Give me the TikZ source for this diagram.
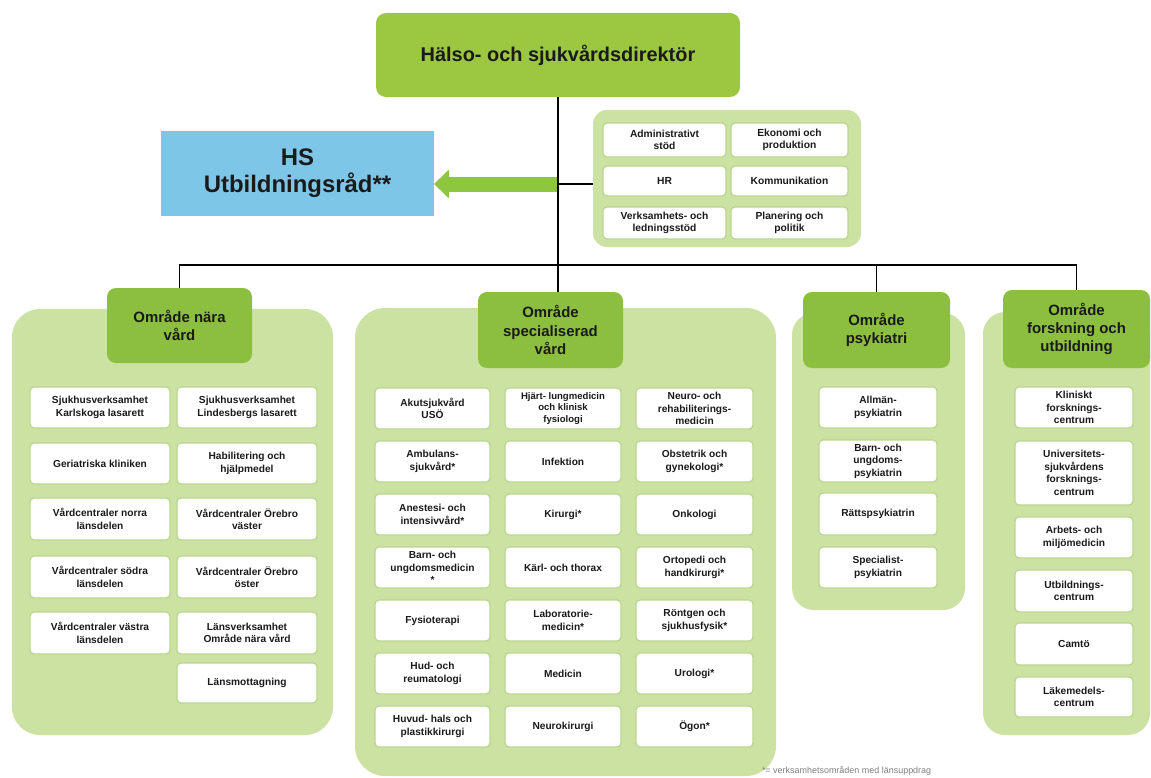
\documentclass[tikz,border=0pt]{standalone}
\usepackage{fontspec}
\setmainfont{Liberation Sans}
\usetikzlibrary{arrows.meta}
\definecolor{dirgreen}{HTML}{9CC741}
\definecolor{hdrgreen}{HTML}{8CBF3F}
\definecolor{panelgreen}{HTML}{CBE2A3}
\definecolor{boxborder}{HTML}{B9D68E}
\definecolor{hsblue}{HTML}{7EC6E8}
\definecolor{arrowgreen}{HTML}{8DC63F}
\definecolor{txt}{HTML}{1A1A1A}
\newcommand\bx[7]{\node[#1, minimum width={#5bp-#3bp}, minimum height={#6bp-#4bp}] (#2) at ({(#3+#5)/2},{(#4+#6)/2}) {#7};}
\tikzset{
  base/.style={inner sep=0pt, outer sep=0pt, align=center, text=txt},
  dirbox/.style={base, fill=dirgreen, rounded corners=10bp, font=\fontsize{20}{24}\selectfont\bfseries},
  hsbox/.style={base, fill=hsblue, font=\fontsize{24}{27}\selectfont\bfseries},
  panel/.style={base, fill=panelgreen},
  hdrbox/.style={base, fill=hdrgreen, rounded corners=9bp, font=\fontsize{15}{18.5}\selectfont\bfseries},
  ibox/.style={base, fill=white, draw=boxborder, line width=1.3bp, rounded corners=4bp, font=\fontsize{10.2}{12.6}\selectfont\bfseries},
  sbox/.style={ibox, font=\fontsize{10.3}{12.4}\selectfont\bfseries},
  conn/.style={draw=black, line width=1.1bp},
  bigarrow/.style={draw=arrowgreen, line width=15bp, -{Triangle[width=28bp,length=15bp]}},
  note/.style={base, text=gray, font=\fontsize{9}{11}\selectfont}
}
\begin{document}
\begin{tikzpicture}[x=1bp,y=-1bp]
\useasboundingbox (0,0) rectangle (1151,778);
% director and HS council
\bx{dirbox}{dir}{376}{13}{740}{97}{Hälso- och sjukvårdsdirektör}
\bx{hsbox}{hs}{161}{131}{434}{216}{HS\\Utbildningsråd**}
% staff functions
\bx{panel, rounded corners=14bp}{staff}{593}{110}{861}{247}{}
\bx{sbox}{s1}{603}{123}{726}{157}{Administrativt\\stöd}
\bx{sbox}{s2}{731}{123}{848}{157}{Ekonomi och\\produktion}
\bx{sbox}{s3}{603}{166}{726}{196}{HR}
\bx{sbox}{s4}{731}{166}{848}{196}{Kommunikation}
\bx{sbox}{s5}{603}{207}{726}{239}{Verksamhets- och\\ledningsstöd}
\bx{sbox}{s6}{731}{207}{848}{239}{Planering och\\politik}
% panels
\bx{panel, rounded corners=28bp}{p1}{12}{309}{333}{735}{}
\bx{panel, rounded corners=30bp}{p2}{355}{308}{776}{776}{}
\bx{panel, rounded corners=22bp}{p3}{792}{313}{965}{610}{}
\bx{panel, rounded corners=22bp}{p4}{983}{312}{1150}{735}{}
% headers
\bx{hdrbox}{h1}{107}{288}{252}{363}{Område nära\\vård}
\bx{hdrbox}{h2}{478}{292}{623}{368}{Område\\specialiserad\\vård}
\bx{hdrbox}{h3}{803}{292}{950}{368}{Område\\psykiatri}
\bx{hdrbox}{h4}{1003}{290}{1150}{368}{Område\\forskning och\\utbildning}
% Område nära vård
\bx{ibox}{a1}{30}{387}{170}{428}{Sjukhusverksamhet\\Karlskoga lasarett}
\bx{ibox}{a2}{30}{443}{170}{484}{Geriatriska kliniken}
\bx{ibox}{a3}{30}{498}{170}{540}{Vårdcentraler norra\\länsdelen}
\bx{ibox}{a4}{30}{556}{170}{598}{Vårdcentraler södra\\länsdelen}
\bx{ibox}{a5}{30}{612}{170}{654}{Vårdcentraler västra\\länsdelen}
\bx{ibox}{b1}{177}{387}{317}{428}{Sjukhusverksamhet\\Lindesbergs lasarett}
\bx{ibox}{b2}{177}{443}{317}{484}{Habilitering och\\hjälpmedel}
\bx{ibox}{b3}{177}{498}{317}{540}{Vårdcentraler Örebro\\väster}
\bx{ibox}{b4}{177}{556}{317}{598}{Vårdcentraler Örebro\\öster}
\bx{ibox}{b5}{177}{612}{317}{654}{Länsverksamhet\\Område nära vård}
\bx{ibox}{b6}{177}{663}{317}{703}{Länsmottagning}
% Område specialiserad vård
\bx{ibox}{c1}{375}{388}{490}{429}{Akutsjukvård\\USÖ}
\bx{ibox}{c2}{375}{441}{490}{482}{Ambulans-\\sjukvård*}
\bx{ibox}{c3}{375}{494}{490}{535}{Anestesi- och\\intensivvård*}
\bx{ibox}{c4}{375}{547}{490}{588}{Barn- och\\ungdomsmedicin\\*}
\bx{ibox}{c5}{375}{600}{490}{641}{Fysioterapi}
\bx{ibox}{c6}{375}{653}{490}{694}{Hud- och\\reumatologi}
\bx{ibox}{c7}{375}{706}{490}{747}{Huvud- hals och\\plastikkirurgi}
\bx{ibox, font=\fontsize{9.6}{12}\selectfont\bfseries}{d1}{505}{388}{621}{429}{Hjärt- lungmedicin\\och klinisk\\fysiologi}
\bx{ibox}{d2}{505}{441}{621}{482}{Infektion}
\bx{ibox}{d3}{505}{494}{621}{535}{Kirurgi*}
\bx{ibox}{d4}{505}{547}{621}{588}{Kärl- och thorax}
\bx{ibox}{d5}{505}{600}{621}{641}{Laboratorie-\\medicin*}
\bx{ibox}{d6}{505}{653}{621}{694}{Medicin}
\bx{ibox}{d7}{505}{706}{621}{747}{Neurokirurgi}
\bx{ibox}{e1}{636}{388}{753}{429}{Neuro- och\\rehabiliterings-\\medicin}
\bx{ibox}{e2}{636}{441}{753}{482}{Obstetrik och\\gynekologi*}
\bx{ibox}{e3}{636}{494}{753}{535}{Onkologi}
\bx{ibox}{e4}{636}{547}{753}{588}{Ortopedi och\\handkirurgi*}
\bx{ibox}{e5}{636}{600}{753}{641}{Röntgen och\\sjukhusfysik*}
\bx{ibox}{e6}{636}{653}{753}{694}{Urologi*}
\bx{ibox}{e7}{636}{706}{753}{747}{Ögon*}
% Område psykiatri
\bx{ibox}{f1}{819}{387}{937}{428}{Allmän-\\psykiatrin}
\bx{ibox}{f2}{819}{440}{937}{482}{Barn- och\\ungdoms-\\psykiatrin}
\bx{ibox}{f3}{819}{493}{937}{535}{Rättspsykiatrin}
\bx{ibox}{f4}{819}{547}{937}{588}{Specialist-\\psykiatrin}
% Område forskning och utbildning
\bx{ibox}{g1}{1015}{387}{1133}{428}{Kliniskt\\forsknings-\\centrum}
\bx{ibox}{g2}{1015}{441}{1133}{505}{Universitets-\\sjukvårdens\\forsknings-\\centrum}
\bx{ibox}{g3}{1015}{517}{1133}{558}{Arbets- och\\miljömedicin}
\bx{ibox}{g4}{1015}{570}{1133}{612}{Utbildnings-\\centrum}
\bx{ibox}{g5}{1015}{623}{1133}{665}{Camtö}
\bx{ibox}{g6}{1015}{677}{1133}{717}{Läkemedels-\\centrum}
% connectors
\coordinate (bus) at (557,265);
\coordinate (arr) at (557,184);
\draw[bigarrow] (arr) -- (arr -| hs.east);
\draw[conn] (dir.south) -- (dir.south |- h2.north);
\draw[conn] (arr) -- (arr -| staff.west);
\draw[conn] (h1.north) |- (bus) -| (h4.north);
\draw[conn] (h3.north) -- (h3.north |- bus);
% footnote
\node[note, anchor=west] (fn) at (762,771) {*= verksamhetsområden med länsuppdrag};
\end{tikzpicture}
\end{document}
